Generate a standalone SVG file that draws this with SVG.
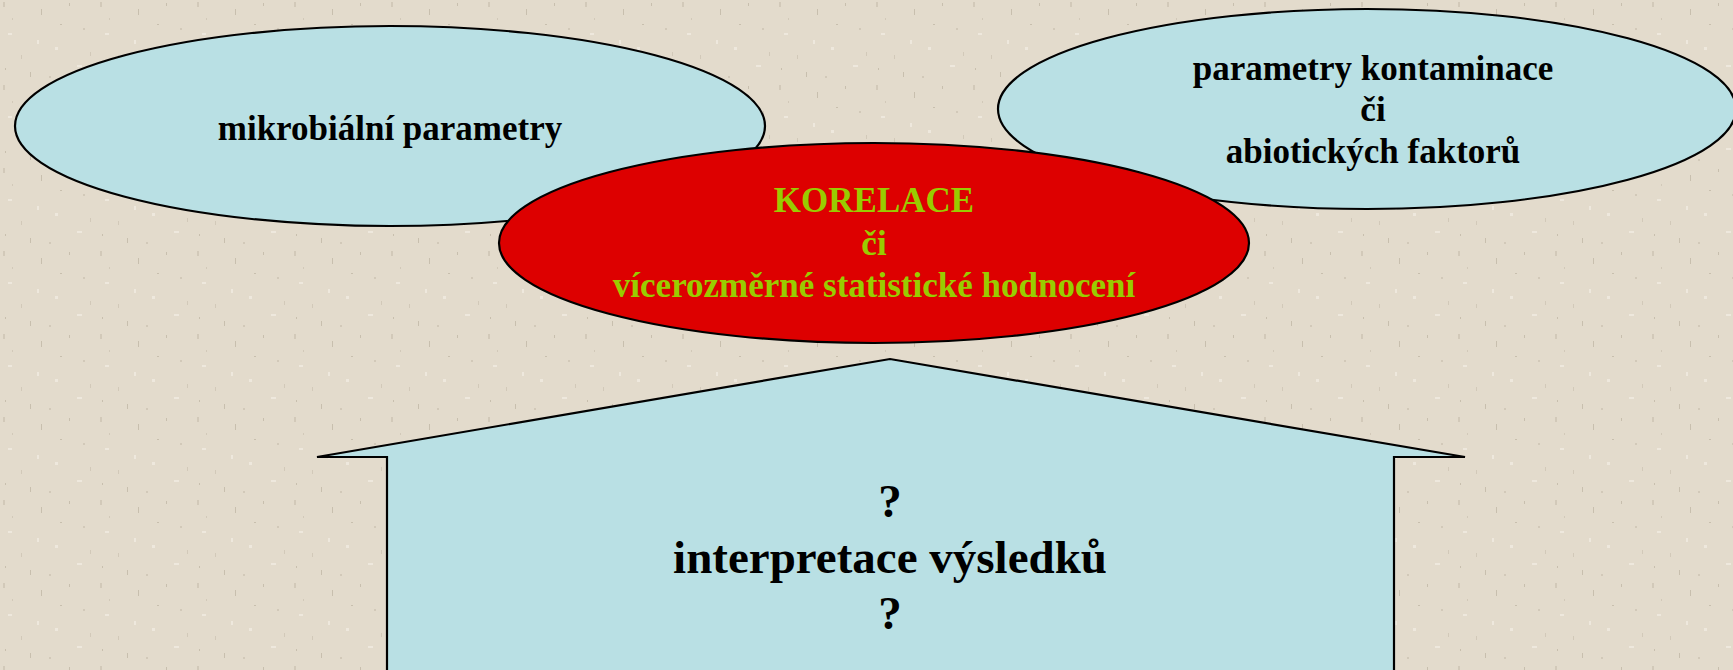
<svg xmlns="http://www.w3.org/2000/svg" width="1733" height="670" viewBox="0 0 1733 670">
<style>
.node{stroke:#000;stroke-width:2.2}
.blue{fill:#B9E0E4}
.red{fill:#DD0000}
.t{font-family:"Liberation Serif","Times New Roman",serif;font-weight:bold;text-anchor:middle}
.s35{font-size:35px}
.s47{font-size:47px}
.dark{fill:#000}
.green{fill:#99CC00}
.d1{fill:#D2C9B9}
.d2{fill:#C8BFAE}
.l1{fill:#EEE8DD}
</style>
<defs>
<pattern id="tex" width="97" height="83" patternUnits="userSpaceOnUse">
<rect width="97" height="83" fill="#E3DBCC"/>
<rect class="d1" x="3" y="2" width="2" height="5"/>
<rect class="d2" x="41" y="9" width="1" height="6"/>
<rect class="l1" x="8" y="33" width="4" height="2"/>
<rect class="d2" x="69" y="3" width="1" height="3"/>
<rect class="d1" x="21" y="55" width="1" height="4"/>
<rect class="l1" x="55" y="47" width="3" height="3"/>
<rect class="d1" x="83" y="28" width="2" height="2"/>
<rect class="d2" x="30" y="72" width="1" height="5"/>
<rect class="l1" x="77" y="65" width="5" height="2"/>
<rect class="d1" x="12" y="18" width="1" height="2"/>
<rect class="d2" x="60" y="24" width="2" height="1"/>
<rect class="d1" x="90" y="52" width="1" height="4"/>
<rect class="l1" x="37" y="40" width="2" height="4"/>
<rect class="d1" x="49" y="76" width="2" height="2"/>
<rect class="d2" x="5" y="68" width="1" height="2"/>
</pattern>
</defs>
<rect width="1733" height="670" fill="url(#tex)"/>
<g id="node-mikrobialni">
<ellipse class="node blue" cx="390" cy="126" rx="375" ry="100"/>
<text class="t s35 dark" x="390" y="140">mikrobiální parametry</text>
</g>
<g id="node-kontaminace">
<ellipse class="node blue" cx="1367" cy="109" rx="369" ry="100"/>
<text class="t s35 dark" x="1373" y="80">parametry kontaminace</text>
<text class="t s35 dark" x="1373" y="121">či</text>
<text class="t s35 dark" x="1373" y="163">abiotických faktorů</text>
</g>
<g id="node-korelace">
<ellipse class="node red" cx="874" cy="243" rx="375" ry="100"/>
<text class="t s35 green" x="874" y="212">KORELACE</text>
<text class="t s35 green" x="874" y="255">či</text>
<text class="t s35 green" x="874" y="297">vícerozměrné statistické hodnocení</text>
</g>
<g id="node-interpretace">
<path class="node blue" d="M387,690 L387,457 L317,457 L890,359 L1465,457 L1394,457 L1394,690"/>
<text class="t s47 dark" x="890" y="517">?</text>
<text class="t s47 dark" x="890" y="573">interpretace výsledků</text>
<text class="t s47 dark" x="890" y="629">?</text>
</g>
<g id="connectors"></g>
</svg>
